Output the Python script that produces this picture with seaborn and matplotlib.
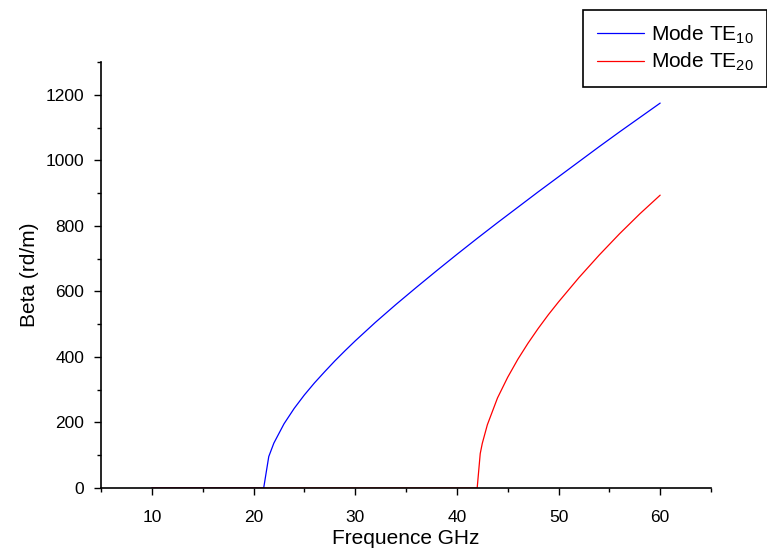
import matplotlib
matplotlib.use("Agg")
import matplotlib.pyplot as plt
import seaborn as sns
import pandas as pd
from matplotlib.ticker import MultipleLocator

# Mode TE10
freq_te10 = [10, 12, 14, 16, 18, 20, 21, 21.5, 22, 23, 24, 25, 26, 27, 28, 29, 30,
             32, 34, 36, 38, 40, 42, 44, 46, 48, 50, 52, 54, 56, 58, 60]
beta_te10 = [0, 0, 0, 0, 0, 0, 0, 96, 137, 196, 243, 284, 321, 355, 388, 419, 449,
             506, 560, 612, 663, 713, 762, 810, 857, 904, 950, 996, 1042, 1087, 1131, 1175]

# Mode TE20
freq_te20 = [10, 15, 20, 25, 30, 35, 40, 42, 42.3, 42.5, 43, 44, 45, 46, 47, 48, 49, 50,
             52, 54, 56, 58, 60]
beta_te20 = [0, 0, 0, 0, 0, 0, 0, 0, 105, 136, 193, 275, 338, 393, 442, 487, 529, 568,
             642, 711, 776, 837, 894]

labels = ["Mode TE$_{10}$", "Mode TE$_{20}$"]
colors = ["#0000ff", "#ff0000"]

df = pd.concat([
    pd.DataFrame({"f": freq_te10, "beta": beta_te10, "mode": labels[0]}),
    pd.DataFrame({"f": freq_te20, "beta": beta_te20, "mode": labels[1]}),
], ignore_index=True)

sns.set_theme(style="ticks", rc={
    "text.color": "black", "axes.labelcolor": "black",
    "xtick.color": "black", "ytick.color": "black", "axes.edgecolor": "black",
})
plt.rcParams["font.family"] = ["Liberation Sans", "DejaVu Sans"]
plt.rcParams["mathtext.default"] = "regular"

fig = plt.figure(figsize=(7.67, 5.5), dpi=100)
ax = fig.add_axes([0.1317, 0.1127, 0.927 - 0.1317, 0.887 - 0.1127])

sns.lineplot(data=df, x="f", y="beta", hue="mode", palette=colors,
             estimator=None, sort=False, linewidth=0.9, ax=ax, legend=True)

ax.set_xlim(5, 65)
ax.set_ylim(0, 1300)
ax.xaxis.set_major_locator(MultipleLocator(10))
ax.xaxis.set_minor_locator(MultipleLocator(5))
ax.yaxis.set_major_locator(MultipleLocator(200))
ax.yaxis.set_minor_locator(MultipleLocator(100))
ax.set_xticks([10, 20, 30, 40, 50, 60])
ax.tick_params(which="major", direction="out", length=5, width=1, labelsize=12.5)
ax.tick_params(which="minor", direction="out", length=3, width=1)
ax.tick_params(axis="x", which="major", pad=11)
ax.tick_params(axis="y", which="major", pad=7)
for s in ["left", "bottom"]:
    ax.spines[s].set_linewidth(1.2)
sns.despine(ax=ax)
ax.set_xlabel("Frequence GHz", fontsize=15, labelpad=3)
ax.set_ylabel("Beta (rd/m)", fontsize=15, labelpad=5)

handles, _ = ax.get_legend_handles_labels()
leg = ax.legend(handles, labels, loc="upper left", bbox_to_anchor=(583 / 767, 1 - 10 / 550),
                bbox_transform=fig.transFigure, fontsize=15, frameon=True, fancybox=False,
                edgecolor="black", framealpha=1, handlelength=2.3, handletextpad=0.3,
                borderpad=0.65, labelspacing=0.25, borderaxespad=0)
leg.get_frame().set_linewidth(1.2)

fig.savefig("out.png", dpi=100)
